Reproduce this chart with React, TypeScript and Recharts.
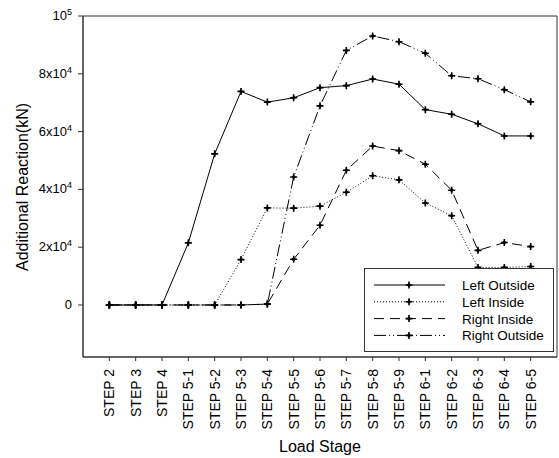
import React from 'react';
import { LineChart, Line, XAxis, YAxis, Legend, Label, ReferenceArea } from 'recharts';

const stages = [
  'STEP 2', 'STEP 3', 'STEP 4', 'STEP 5-1', 'STEP 5-2', 'STEP 5-3', 'STEP 5-4', 'STEP 5-5', 'STEP 5-6',
  'STEP 5-7', 'STEP 5-8', 'STEP 5-9', 'STEP 6-1', 'STEP 6-2', 'STEP 6-3', 'STEP 6-4', 'STEP 6-5',
];
const leftOutside = [0, 0, 0, 21500, 52300, 73900, 70200, 71700, 75200, 75900, 78200, 76400, 67600, 66000, 62700, 58500, 58500];
const leftInside = [0, 0, 0, 0, 0, 15700, 33600, 33500, 34200, 39000, 44700, 43300, 35300, 30900, 13000, 13000, 13300];
const rightInside = [0, 0, 0, 0, 0, 0, 300, 15800, 27600, 46600, 55000, 53400, 48700, 39700, 18900, 21600, 20200];
const rightOutside = [0, 0, 0, 0, 0, 0, 300, 44300, 68900, 88100, 93100, 91100, 87100, 79300, 78300, 74500, 70300];
const yTicks = [0, 20000, 40000, 60000, 80000, 100000];

const series = [
  { key: 'leftOutside', name: 'Left Outside', dash: undefined },
  { key: 'leftInside', name: 'Left Inside', dash: '1 2' },
  { key: 'rightInside', name: 'Right Inside', dash: '10 6' },
  { key: 'rightOutside', name: 'Right Outside', dash: '12 3 1 3 1 3' },
];

const data = stages.map((s, i) => ({
  idx: i,
  stage: s,
  leftOutside: leftOutside[i],
  leftInside: leftInside[i],
  rightInside: rightInside[i],
  rightOutside: rightOutside[i],
}));

const FONT = '"Liberation Sans", Arial, sans-serif';

const Marker = ({ cx, cy }: { cx: number; cy: number }) => (
  <g>
    <path d={`M${cx - 3.5},${cy} L${cx + 3.5},${cy} M${cx},${cy - 3.5} L${cx},${cy + 3.5}`} stroke="#000" strokeWidth={1.6} />
    <path d={`M${cx - 2.2},${cy} L${cx},${cy - 2.2} L${cx + 2.2},${cy} L${cx},${cy + 2.2} Z`} fill="#000" />
  </g>
);

const renderDot = (props: any) => {
  const { cx, cy, index, dataKey } = props;
  if (cx == null || cy == null) return <g key={`${dataKey}-${index}`} />;
  return (
    <g key={`${dataKey}-${index}`}>
      <Marker cx={cx} cy={cy} />
    </g>
  );
};

const YTick = (props: any) => {
  const { x, y, payload } = props;
  const v = payload.value;
  let body: React.ReactNode;
  if (v === 0) body = '0';
  else if (v === 100000) body = (<>10<tspan dy={-5} fontSize={9}>5</tspan></>);
  else body = (<>{v / 10000}x10<tspan dy={-5} fontSize={9}>4</tspan></>);
  return (
    <text x={x - 4} y={y} dy={4} textAnchor="end" fontSize={13} fontFamily={FONT} fill="#000">
      {body}
    </text>
  );
};

const XTick = (props: any) => {
  const { x, y, payload } = props;
  return (
    <text
      transform={`translate(${x},${y + 6}) rotate(-90)`}
      textAnchor="end"
      dy="0.35em"
      fontSize={14}
      fontFamily={FONT}
      fill="#000"
    >
      {stages[payload.value]}
    </text>
  );
};

const LegendBox = () => (
  <div
    style={{
      width: 190,
      height: 84,
      boxSizing: 'border-box',
      border: '1px solid #333',
      background: '#fff',
      position: 'relative',
    }}
  >
    <svg width={188} height={82} style={{ position: 'absolute', left: 0, top: 0 }}>
      {series.map((s, i) => {
        const y = 16 + i * 16.8;
        return (
          <g key={s.key}>
            <line x1={9} x2={80} y1={y} y2={y} stroke="#000" strokeWidth={1} strokeDasharray={s.dash} />
            <Marker cx={44} cy={y} />
            <text x={97} y={y} dy={5} fontSize={13.5} fontFamily={FONT} fill="#000">
              {s.name}
            </text>
          </g>
        );
      })}
    </svg>
  </div>
);

export default function App() {
  return (
    <div style={{ position: 'absolute', left: 0, top: 0, background: '#fff' }}>
      <LineChart width={559} height={458} data={data} margin={{ top: 16, right: 2, left: 0, bottom: 0 }}>
        <XAxis
          dataKey="idx"
          type="number"
          domain={[-1, 17]}
          ticks={stages.map((_, i) => i)}
          interval={0}
          height={101}
          tick={<XTick />}
          tickSize={4}
          stroke="#333"
          tickLine={{ stroke: '#333' }}
        >
          <Label
            content={() => (
              <text x={320} y={447} dy={5} textAnchor="middle" fontSize={16} fontFamily={FONT} fill="#000">
                Load Stage
              </text>
            )}
          />
        </XAxis>
        <YAxis
          type="number"
          domain={[-18000, 100000]}
          ticks={yTicks}
          width={83}
          tick={<YTick />}
          tickSize={5}
          stroke="#333"
          tickLine={{ stroke: '#333' }}
          interval={0}
        >
          <Label
            content={() => (
              <text
                transform="translate(22,187) rotate(-90)"
                textAnchor="middle"
                dy="0.35em"
                fontSize={16}
                fontFamily={FONT}
                fill="#000"
              >
                Additional Reaction(kN)
              </text>
            )}
          />
        </YAxis>
        <ReferenceArea
          x1={-1}
          x2={17}
          y1={-18000}
          y2={100000}
          fill="none"
          stroke="#333"
          strokeWidth={1}
          ifOverflow="visible"
        />
        {series.map((s) => (
          <Line
            key={s.key}
            dataKey={s.key}
            name={s.name}
            stroke="#000"
            strokeWidth={1}
            strokeDasharray={s.dash}
            dot={renderDot}
            activeDot={false}
            isAnimationActive={false}
          />
        ))}
        <Legend
          layout="horizontal"
          verticalAlign="middle"
          content={<LegendBox />}
          wrapperStyle={{ position: 'absolute', left: 364, top: 268, width: 190, height: 84, bottom: 'auto', right: 'auto' }}
        />
      </LineChart>
    </div>
  );
}
